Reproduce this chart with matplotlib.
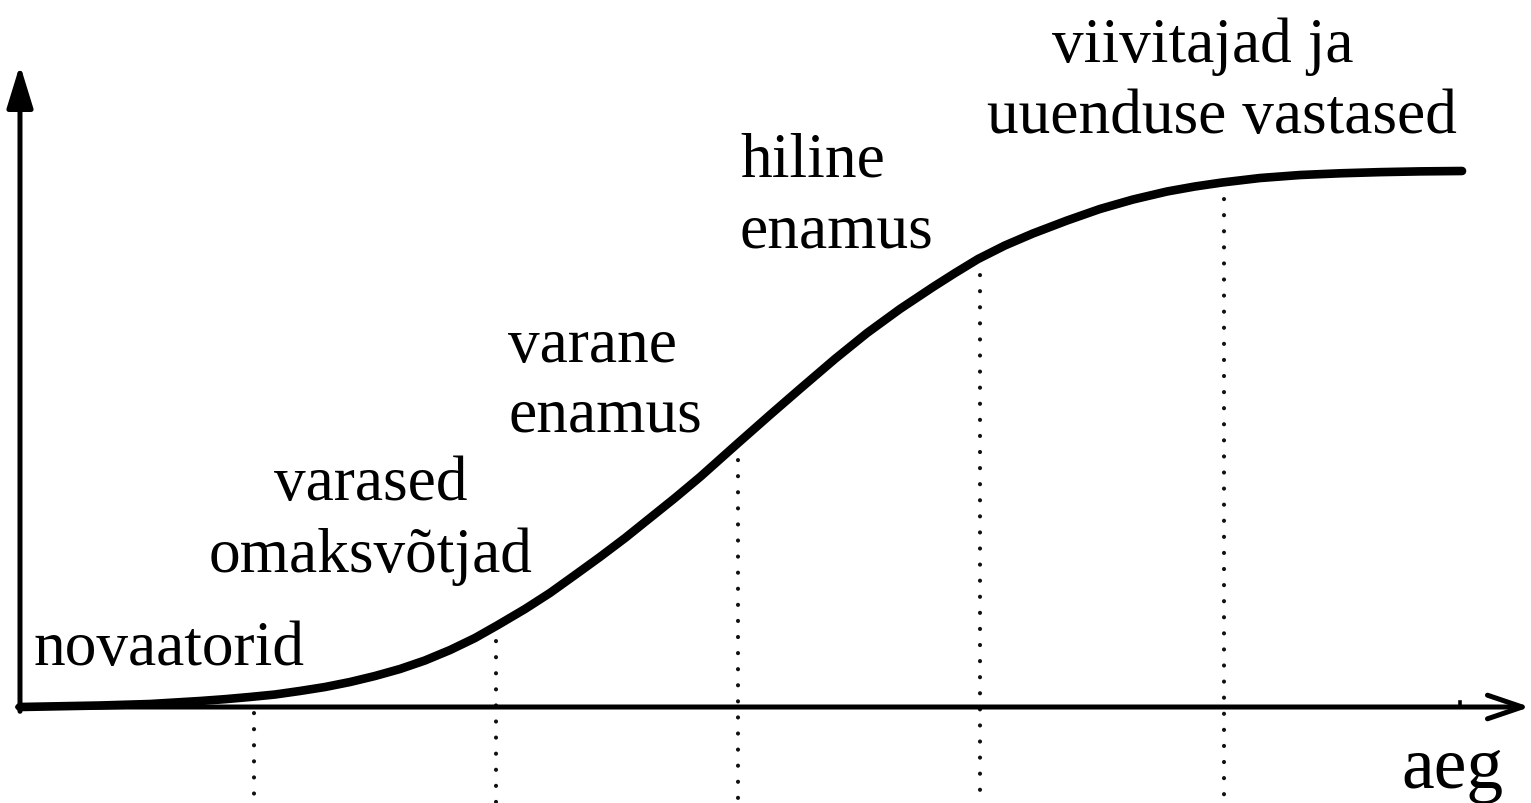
import matplotlib
matplotlib.use("Agg")
import matplotlib.pyplot as plt

# Adoption S-curve (time in segment units, adoption in % of final level)
time_pts = [0.0, 0.331, 0.538, 0.745, 0.848, 0.951, 1.055, 1.158, 1.262, 1.365,
            1.468, 1.572, 1.675, 1.779, 1.882, 1.977, 2.089, 2.192, 2.296, 2.399,
            2.503, 2.606, 2.709, 2.813, 2.966, 3.102, 3.226, 3.371, 3.504, 3.640,
            3.777, 3.868, 3.963, 4.074, 4.190, 4.331, 4.467, 4.604, 4.745, 4.860,
            4.972, 5.129, 5.295, 5.460, 5.626, 5.791, 5.965]
adoption = [0.0, 0.28, 0.56, 1.12, 1.46, 1.87, 2.33, 2.99, 3.73, 4.66,
            5.78, 7.09, 8.68, 10.63, 12.87, 15.30, 18.28, 21.27, 24.63, 27.99,
            31.53, 35.26, 38.99, 42.91, 49.07, 54.48, 59.33, 64.93, 69.78, 74.25,
            78.36, 80.97, 83.58, 86.10, 88.34, 90.76, 92.91, 94.68, 96.18, 97.11,
            97.85, 98.69, 99.25, 99.57, 99.79, 99.93, 100.0]

# Group boundaries (dotted lines) and the curve level there
boundaries = [0.97, 1.97, 2.97, 3.97, 4.98]
boundary_levels = [1.87, 15.3, 49.07, 83.58, 97.85]
curve_end = 5.957

# Group labels, one entry per printed line
label_lines = ["novaatorid", "varased", "omaksvõtjad", "varane", "enamus",
               "hiline", "enamus", "viivitajad ja", "uuenduse vastased"]
label_x = [0.054, 1.452, 1.452, 2.019, 2.019, 2.978, 2.978, 4.269, 4.0]
label_y = [8.0, 38.8, 25.4, 64.6, 51.5, 99.1, 86.0, 120.5, 107.3]
label_ha = ["left", "center", "center", "left", "left", "left", "left", "left", "left"]
x_label = "aeg"

fig = plt.figure(figsize=(15.31, 8.04), dpi=100)
ax = fig.add_axes([0, 0, 1, 1])
ax.set_xlim(-0.0827, 6.2503)
ax.set_ylim(-17.91, 132.09)
ax.axis("off")

font = dict(family="Liberation Serif", color="black")

# dotted vertical lines
for b, lv in zip(boundaries, boundary_levels):
    ax.plot([b, b], [lv, -20], color="#111111", lw=3.0,
            linestyle=(0, (0.01, 3.85)), dash_capstyle="round", zorder=1)

# small tick at the end of the curve
ax.plot([curve_end, curve_end], [0, 1.0], color="black", lw=2.6, zorder=3)

# axes arrows
ax.annotate("", xy=(0, 119.8), xytext=(0, -0.8),
            arrowprops=dict(arrowstyle="-|>,head_length=2.6,head_width=0.8",
                            lw=3.6, color="black", shrinkA=0, shrinkB=0,
                            mutation_scale=10), zorder=3)
ax.annotate("", xy=(6.246, 0), xytext=(-0.01, 0),
            arrowprops=dict(arrowstyle="->,head_length=2.5,head_width=0.85",
                            lw=3.6, color="black", shrinkA=0, shrinkB=0,
                            mutation_scale=10), zorder=3)

# S-curve
ax.plot(time_pts, adoption, color="black", lw=6.2, solid_capstyle="round",
        solid_joinstyle="round", zorder=4)

# labels
for txt, x, y, ha in zip(label_lines, label_x, label_y, label_ha):
    ax.text(x, y, txt, ha=ha, va="baseline", fontsize=45.6, **font)

ax.text(5.716, -14.9, x_label, ha="left", va="baseline", fontsize=53, **font)

fig.savefig("out.png", dpi=100, facecolor="white")
